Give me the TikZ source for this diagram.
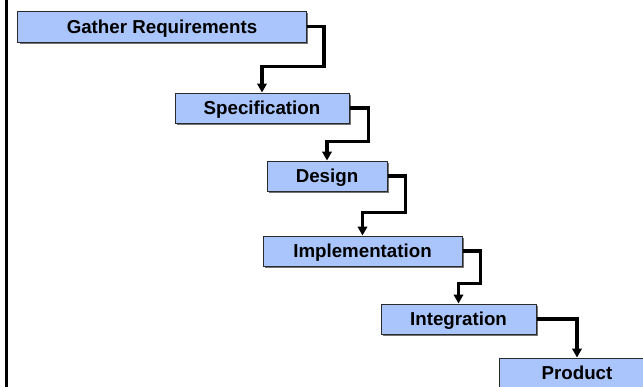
\documentclass[tikz,border=0pt]{standalone}
\usepackage{fontspec}
\setmainfont{Liberation Sans}
\usetikzlibrary{arrows.meta,calc}
\definecolor{boxfill}{HTML}{A9C5FB}
\definecolor{boxline}{HTML}{2A2A2A}
\tikzset{
  stepbox/.style={draw=boxline, line width=1bp, fill=boxfill, inner sep=0pt,
    minimum height=30bp, text height=13.4bp, text depth=0pt,
    font=\fontsize{18.8}{20}\selectfont\bfseries},
  conn/.style={line width=3.4bp, -{Triangle[length=9bp,width=9.5bp]}, line join=miter},
  frameline/.style={line width=2.5bp}
}
\begin{document}
\begin{tikzpicture}[x=1bp,y=-1bp]
\useasboundingbox (0,0) rectangle (643,386);
\clip (0,0) rectangle (643,386);
\draw[frameline] (6.5,-2) coordinate (ft) -- (6.5,390) coordinate (fb);
% shadows
\foreach \l/\t/\r/\b in {18/11/306/42, 175/93/349/123, 267/161/387/191, 263/236/462/266, 381/304/536/334, 499/358/655/388}{
  \fill[black!55] (\l+1.5,\t+1.5) rectangle (\r+1.5,\b+1.5);
}
\node[stepbox, minimum width=288bp, minimum height=31bp] (g) at (162,26.5) {Gather Requirements};
\node[stepbox, minimum width=174bp] (s) at (262,108) {Specification};
\node[stepbox, minimum width=120bp] (d) at (327,176) {Design};
\node[stepbox, minimum width=199bp] (i) at (362.5,251) {Implementation};
\node[stepbox, minimum width=155bp] (n) at (458.5,319) {Integration};
\node[stepbox, minimum width=156bp] (p) at (577,373) {Product};
\draw[conn] (g.east) -- ++(17.5,0) |- ([yshift=26bp]s.north) -- (s.north);
\draw[conn] (s.east) -- ++(19,0) |- ([yshift=19bp]d.north) -- (d.north);
\draw[conn] (d.east) -- ++(18,0) |- ([yshift=23bp]i.north) -- (i.north);
\draw[conn] (i.east) -- ++(18,0) |- ([yshift=20bp]n.north) -- (n.north);
\draw[conn] (n.east) -| (p.north);
\end{tikzpicture}
\end{document}
